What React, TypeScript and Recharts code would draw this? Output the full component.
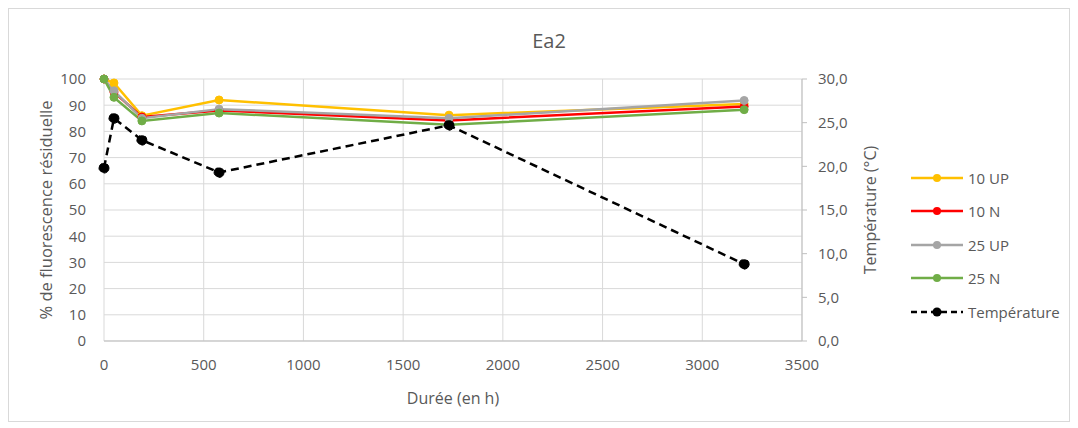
import React from "react";
import {
  ComposedChart,
  Line,
  XAxis,
  YAxis,
  CartesianGrid,
  Legend,
} from "recharts";

const hours = [0, 50, 190, 577, 1730, 3210];
const up10 = [100, 98.5, 86, 92, 86.2, 90.5];
const n10 = [100, 95, 85.5, 88, 84.2, 89.5];
const up25 = [100, 95.5, 85, 88.5, 85, 91.8];
const n25 = [100, 93, 84, 87, 82.5, 88.3];
const temperature = [19.8, 25.5, 23.0, 19.3, 24.7, 8.8];
const xTicks = [0, 500, 1000, 1500, 2000, 2500, 3000, 3500];
const leftTicks = [0, 10, 20, 30, 40, 50, 60, 70, 80, 90, 100];
const rightTicks = [0, 5, 10, 15, 20, 25, 30];

const seriesDefs = [
  { key: "up10", name: "10 UP", color: "#FFC000", values: up10 },
  { key: "n10", name: "10 N", color: "#FF0000", values: n10 },
  { key: "up25", name: "25 UP", color: "#A5A5A5", values: up25 },
  { key: "n25", name: "25 N", color: "#70AD47", values: n25 },
];

const data = hours.map((h, i) => ({
  h,
  up10: up10[i],
  n10: n10[i],
  up25: up25[i],
  n25: n25[i],
  temp: temperature[i],
}));

const FONT = "'Open Sans', sans-serif";
const TXT = "#595959";

const legendItems = [
  ...seriesDefs.map((s) => ({ name: s.name, color: s.color, dashed: false })),
  { name: "Température", color: "#000000", dashed: true },
];

const LegendContent = () => (
  <div style={{ fontFamily: FONT, fontSize: 15, color: TXT }}>
    {legendItems.map((it) => (
      <div key={it.name} style={{ display: "flex", alignItems: "center", height: 33.5 }}>
        <svg width={54} height={12} style={{ marginRight: 4 }}>
          <line
            x1={1}
            y1={6}
            x2={53}
            y2={6}
            stroke={it.color}
            strokeWidth={2.5}
            strokeDasharray={it.dashed ? "6 4" : undefined}
          />
          <circle cx={27} cy={6} r={it.dashed ? 4.5 : 4} fill={it.color} />
        </svg>
        <span>{it.name}</span>
      </div>
    ))}
  </div>
);

export default function App() {
  return (
    <div
      style={{
        position: "relative",
        width: 1060,
        height: 412,
        border: "1px solid #d9d9d9",
        background: "#fff",
      }}
    >
      <div
        style={{
          position: "absolute",
          left: 0,
          top: 18,
          width: 1080,
          textAlign: "center",
          fontFamily: FONT,
          fontSize: 20,
          color: TXT,
        }}
      >
        Ea2
      </div>
      <ComposedChart
        width={1060}
        height={412}
        data={data}
        margin={{ top: 70, right: 187, bottom: 15, left: 15 }}
      >
        <CartesianGrid yAxisId="left" stroke="#d9d9d9" strokeWidth={1} />
        <XAxis
          dataKey="h"
          type="number"
          domain={[0, 3500]}
          ticks={xTicks}
          height={65}
          tickLine={false}
          tickMargin={12}
          axisLine={{ stroke: "#bfbfbf" }}
          tick={{ fill: TXT, fontSize: 15, fontFamily: FONT }}
          label={{
            value: "Durée (en h)",
            position: "insideBottom",
            offset: 2,
            fill: TXT,
            fontSize: 16,
            fontFamily: FONT,
          }}
        />
        <YAxis
          yAxisId="left"
          domain={[0, 100]}
          ticks={leftTicks}
          width={80}
          axisLine={false}
          tickLine={false}
          tickMargin={12}
          tick={{ fill: TXT, fontSize: 15, fontFamily: FONT }}
          label={{
            value: "% de fluorescence résiduelle",
            angle: -90,
            position: "insideLeft",
            offset: 22,
            style: { textAnchor: "middle" },
            fill: TXT,
            fontSize: 16.5,
            fontFamily: FONT,
          }}
        />
        <YAxis
          yAxisId="right"
          orientation="right"
          domain={[0, 30]}
          ticks={rightTicks}
          width={80}
          axisLine={{ stroke: "#bfbfbf" }}
          tickLine={{ stroke: "#bfbfbf" }}
          tickSize={5}
          tickMargin={11}
          tickFormatter={(v: number) => v.toFixed(1).replace(".", ",")}
          tick={{ fill: TXT, fontSize: 15, fontFamily: FONT }}
          label={{
            value: "Température (°C)",
            angle: -90,
            position: "insideRight",
            offset: 12,
            style: { textAnchor: "middle" },
            fill: TXT,
            fontSize: 16,
            fontFamily: FONT,
          }}
        />
        {seriesDefs.map((s) => (
          <Line
            key={s.key}
            yAxisId="left"
            dataKey={s.key}
            name={s.name}
            stroke={s.color}
            strokeWidth={2.5}
            dot={{ r: 4, fill: s.color, stroke: s.color, strokeWidth: 1 }}
            isAnimationActive={false}
          />
        ))}
        <Line
          yAxisId="right"
          dataKey="temp"
          name="Température"
          stroke="#000000"
          strokeWidth={2.5}
          strokeDasharray="8 5"
          dot={{ r: 5, fill: "#000", stroke: "#000", strokeWidth: 1 }}
          isAnimationActive={false}
        />
        <Legend
          layout="vertical"
          align="center"
          verticalAlign="middle"
          wrapperStyle={{ left: 901, top: 152, width: 170 }}
          content={<LegendContent />}
        />
      </ComposedChart>
    </div>
  );
}
